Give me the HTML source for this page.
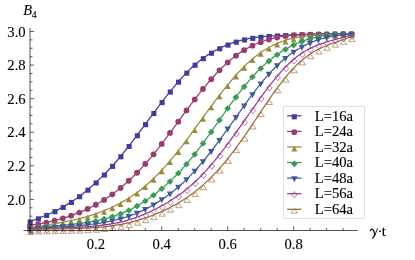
<!DOCTYPE html>
<html><head><meta charset="utf-8"><title>B4 plot</title>
<style>
html,body{margin:0;padding:0;background:#fff;}
body{width:415px;height:260px;position:relative;overflow:hidden;font-family:"Liberation Serif",serif;}
svg text{font-family:"Liberation Serif",serif;stroke:#000;stroke-width:0.12px;}
</style></head><body>
<svg width="415" height="260" viewBox="0 0 415 260" style="position:absolute;left:0;top:0;will-change:transform;opacity:0.999">
<rect width="415" height="260" fill="#fff"/>
<polyline points="29.90,221.67 31.53,221.05 33.16,220.42 34.79,219.78 36.42,219.15 38.05,218.50 39.68,217.85 41.31,217.19 42.94,216.52 44.57,215.83 46.20,215.14 47.83,214.43 49.46,213.71 51.09,212.96 52.72,212.21 54.35,211.43 55.98,210.63 57.61,209.82 59.24,208.98 60.87,208.11 62.50,207.22 64.13,206.31 65.76,205.37 67.39,204.40 69.02,203.39 70.65,202.36 72.28,201.30 73.91,200.20 75.54,199.08 77.17,197.92 78.80,196.73 80.43,195.51 82.06,194.26 83.69,192.98 85.32,191.67 86.95,190.34 88.58,188.97 90.20,187.58 91.83,186.16 93.46,184.71 95.09,183.24 96.72,181.74 98.35,180.22 99.98,178.67 101.61,177.09 103.24,175.49 104.87,173.85 106.50,172.19 108.13,170.49 109.76,168.76 111.39,166.99 113.02,165.19 114.65,163.35 116.28,161.48 117.91,159.57 119.54,157.64 121.17,155.67 122.80,153.68 124.43,151.66 126.06,149.61 127.69,147.54 129.32,145.46 130.95,143.35 132.58,141.23 134.21,139.09 135.84,136.93 137.47,134.77 139.10,132.59 140.73,130.41 142.36,128.22 143.99,126.02 145.62,123.82 147.25,121.62 148.88,119.41 150.51,117.21 152.14,115.02 153.77,112.83 155.40,110.64 157.03,108.46 158.66,106.30 160.29,104.15 161.92,102.01 163.55,99.89 165.18,97.78 166.81,95.70 168.44,93.63 170.07,91.59 171.70,89.58 173.33,87.59 174.96,85.63 176.59,83.71 178.22,81.81 179.85,79.95 181.48,78.13 183.11,76.34 184.74,74.60 186.37,72.89 188.00,71.23 189.63,69.62 191.26,68.05 192.89,66.54 194.52,65.07 196.15,63.66 197.78,62.30 199.41,60.98 201.04,59.72 202.67,58.51 204.30,57.34 205.93,56.21 207.55,55.13 209.18,54.09 210.81,53.09 212.44,52.12 214.07,51.19 215.70,50.30 217.33,49.44 218.96,48.61 220.59,47.82 222.22,47.05 223.85,46.31 225.48,45.60 227.11,44.92 228.74,44.27 230.37,43.65 232.00,43.06 233.63,42.50 235.26,41.97 236.89,41.47 238.52,41.00 240.15,40.55 241.78,40.13 243.41,39.74 245.04,39.37 246.67,39.03 248.30,38.71 249.93,38.41 251.56,38.13 253.19,37.86 254.82,37.62 256.45,37.40 258.08,37.19 259.71,36.99 261.34,36.81 262.97,36.65 264.60,36.49 266.23,36.35 267.86,36.22 269.49,36.09 271.12,35.97 272.75,35.86 274.38,35.76 276.01,35.66 277.64,35.56 279.27,35.47 280.90,35.38 282.53,35.29 284.16,35.21 285.79,35.13 287.42,35.05 289.05,34.97 290.68,34.90 292.31,34.83 293.94,34.76 295.57,34.70 297.20,34.63 298.83,34.57 300.46,34.52 302.09,34.46 303.72,34.41 305.35,34.36 306.98,34.31 308.61,34.27 310.24,34.22 311.87,34.18 313.50,34.15 315.13,34.11 316.76,34.08 318.39,34.05 320.02,34.02 321.65,33.99 323.28,33.97 324.90,33.95 326.53,33.93 328.16,33.91 329.79,33.89 331.42,33.88 333.05,33.87 334.68,33.86 336.31,33.85 337.94,33.85 339.57,33.84 341.20,33.84 342.83,33.84 344.46,33.84 346.09,33.84 347.72,33.84 349.35,33.84 350.98,33.84 352.61,33.84 354.24,33.84" fill="none" stroke="#3f3d99" stroke-width="1.25" stroke-linejoin="round"/>
<rect x="27.65" y="219.52" width="5.10" height="5.10" fill="#3f3d99"/>
<rect x="35.89" y="216.31" width="5.10" height="5.10" fill="#3f3d99"/>
<rect x="44.13" y="212.91" width="5.10" height="5.10" fill="#3f3d99"/>
<rect x="52.38" y="209.14" width="5.10" height="5.10" fill="#3f3d99"/>
<rect x="60.62" y="204.87" width="5.10" height="5.10" fill="#3f3d99"/>
<rect x="68.86" y="199.91" width="5.10" height="5.10" fill="#3f3d99"/>
<rect x="77.10" y="194.16" width="5.10" height="5.10" fill="#3f3d99"/>
<rect x="85.35" y="187.64" width="5.10" height="5.10" fill="#3f3d99"/>
<rect x="93.59" y="180.41" width="5.10" height="5.10" fill="#3f3d99"/>
<rect x="101.83" y="172.50" width="5.10" height="5.10" fill="#3f3d99"/>
<rect x="110.07" y="163.82" width="5.10" height="5.10" fill="#3f3d99"/>
<rect x="118.32" y="154.25" width="5.10" height="5.10" fill="#3f3d99"/>
<rect x="126.56" y="143.96" width="5.10" height="5.10" fill="#3f3d99"/>
<rect x="134.80" y="133.18" width="5.10" height="5.10" fill="#3f3d99"/>
<rect x="143.04" y="122.11" width="5.10" height="5.10" fill="#3f3d99"/>
<rect x="151.29" y="110.99" width="5.10" height="5.10" fill="#3f3d99"/>
<rect x="159.53" y="100.04" width="5.10" height="5.10" fill="#3f3d99"/>
<rect x="167.77" y="89.50" width="5.10" height="5.10" fill="#3f3d99"/>
<rect x="176.02" y="79.61" width="5.10" height="5.10" fill="#3f3d99"/>
<rect x="184.26" y="70.60" width="5.10" height="5.10" fill="#3f3d99"/>
<rect x="192.50" y="62.71" width="5.10" height="5.10" fill="#3f3d99"/>
<rect x="200.74" y="56.12" width="5.10" height="5.10" fill="#3f3d99"/>
<rect x="208.98" y="50.68" width="5.10" height="5.10" fill="#3f3d99"/>
<rect x="217.23" y="46.21" width="5.10" height="5.10" fill="#3f3d99"/>
<rect x="225.47" y="42.53" width="5.10" height="5.10" fill="#3f3d99"/>
<rect x="233.71" y="39.60" width="5.10" height="5.10" fill="#3f3d99"/>
<rect x="241.96" y="37.41" width="5.10" height="5.10" fill="#3f3d99"/>
<rect x="250.20" y="35.83" width="5.10" height="5.10" fill="#3f3d99"/>
<rect x="258.44" y="34.73" width="5.10" height="5.10" fill="#3f3d99"/>
<rect x="266.68" y="33.98" width="5.10" height="5.10" fill="#3f3d99"/>
<rect x="274.92" y="33.44" width="5.10" height="5.10" fill="#3f3d99"/>
<rect x="283.17" y="33.00" width="5.10" height="5.10" fill="#3f3d99"/>
<rect x="291.41" y="32.62" width="5.10" height="5.10" fill="#3f3d99"/>
<rect x="299.65" y="32.32" width="5.10" height="5.10" fill="#3f3d99"/>
<rect x="307.89" y="32.08" width="5.10" height="5.10" fill="#3f3d99"/>
<rect x="316.14" y="31.90" width="5.10" height="5.10" fill="#3f3d99"/>
<rect x="324.38" y="31.77" width="5.10" height="5.10" fill="#3f3d99"/>
<rect x="332.62" y="31.71" width="5.10" height="5.10" fill="#3f3d99"/>
<rect x="340.86" y="31.69" width="5.10" height="5.10" fill="#3f3d99"/>
<rect x="349.11" y="31.69" width="5.10" height="5.10" fill="#3f3d99"/>
<polyline points="29.90,225.48 31.53,225.23 33.16,224.97 34.79,224.70 36.42,224.42 38.05,224.13 39.68,223.83 41.31,223.52 42.94,223.20 44.57,222.86 46.20,222.52 47.83,222.16 49.46,221.79 51.09,221.41 52.72,221.02 54.35,220.61 55.98,220.19 57.61,219.75 59.24,219.30 60.87,218.84 62.50,218.36 64.13,217.86 65.76,217.35 67.39,216.83 69.02,216.29 70.65,215.73 72.28,215.16 73.91,214.57 75.54,213.96 77.17,213.33 78.80,212.68 80.43,212.02 82.06,211.33 83.69,210.63 85.32,209.90 86.95,209.15 88.58,208.38 90.20,207.59 91.83,206.77 93.46,205.93 95.09,205.06 96.72,204.17 98.35,203.25 99.98,202.31 101.61,201.34 103.24,200.34 104.87,199.31 106.50,198.25 108.13,197.17 109.76,196.05 111.39,194.90 113.02,193.72 114.65,192.51 116.28,191.27 117.91,190.00 119.54,188.69 121.17,187.36 122.80,185.99 124.43,184.59 126.06,183.16 127.69,181.69 129.32,180.20 130.95,178.67 132.58,177.11 134.21,175.52 135.84,173.90 137.47,172.24 139.10,170.55 140.73,168.83 142.36,167.08 143.99,165.30 145.62,163.48 147.25,161.64 148.88,159.76 150.51,157.84 152.14,155.90 153.77,153.92 155.40,151.92 157.03,149.88 158.66,147.81 160.29,145.72 161.92,143.61 163.55,141.47 165.18,139.32 166.81,137.14 168.44,134.96 170.07,132.76 171.70,130.55 173.33,128.33 174.96,126.10 176.59,123.87 178.22,121.64 179.85,119.41 181.48,117.18 183.11,114.95 184.74,112.73 186.37,110.52 188.00,108.32 189.63,106.13 191.26,103.96 192.89,101.80 194.52,99.66 196.15,97.55 197.78,95.45 199.41,93.38 201.04,91.33 202.67,89.31 204.30,87.32 205.93,85.36 207.55,83.42 209.18,81.52 210.81,79.64 212.44,77.80 214.07,76.00 215.70,74.23 217.33,72.49 218.96,70.79 220.59,69.13 222.22,67.51 223.85,65.93 225.48,64.40 227.11,62.90 228.74,61.46 230.37,60.05 232.00,58.69 233.63,57.38 235.26,56.12 236.89,54.91 238.52,53.75 240.15,52.64 241.78,51.58 243.41,50.56 245.04,49.57 246.67,48.62 248.30,47.71 249.93,46.84 251.56,46.02 253.19,45.23 254.82,44.48 256.45,43.77 258.08,43.09 259.71,42.45 261.34,41.84 262.97,41.26 264.60,40.72 266.23,40.20 267.86,39.72 269.49,39.26 271.12,38.83 272.75,38.43 274.38,38.04 276.01,37.69 277.64,37.35 279.27,37.04 280.90,36.74 282.53,36.47 284.16,36.21 285.79,35.98 287.42,35.78 289.05,35.61 290.68,35.45 292.31,35.30 293.94,35.17 295.57,35.05 297.20,34.94 298.83,34.85 300.46,34.76 302.09,34.69 303.72,34.62 305.35,34.57 306.98,34.52 308.61,34.48 310.24,34.44 311.87,34.41 313.50,34.38 315.13,34.36 316.76,34.34 318.39,34.33 320.02,34.31 321.65,34.30 323.28,34.29 324.90,34.27 326.53,34.26 328.16,34.24 329.79,34.22 331.42,34.19 333.05,34.16 334.68,34.13 336.31,34.09 337.94,34.04 339.57,33.98 341.20,33.92 342.83,33.84 344.46,33.76 346.09,33.70 347.72,33.70 349.35,33.70 350.98,33.70 352.61,33.70 354.24,33.70" fill="none" stroke="#993d71" stroke-width="1.25" stroke-linejoin="round"/>
<circle cx="29.90" cy="225.58" r="2.9" fill="#993d71"/>
<circle cx="38.14" cy="224.21" r="2.9" fill="#993d71"/>
<circle cx="46.38" cy="222.58" r="2.9" fill="#993d71"/>
<circle cx="54.63" cy="220.64" r="2.9" fill="#993d71"/>
<circle cx="62.87" cy="218.35" r="2.9" fill="#993d71"/>
<circle cx="71.11" cy="215.67" r="2.9" fill="#993d71"/>
<circle cx="79.35" cy="212.56" r="2.9" fill="#993d71"/>
<circle cx="87.60" cy="208.95" r="2.9" fill="#993d71"/>
<circle cx="95.84" cy="204.76" r="2.9" fill="#993d71"/>
<circle cx="104.08" cy="199.91" r="2.9" fill="#993d71"/>
<circle cx="112.32" cy="194.33" r="2.9" fill="#993d71"/>
<circle cx="120.57" cy="187.96" r="2.9" fill="#993d71"/>
<circle cx="128.81" cy="180.77" r="2.9" fill="#993d71"/>
<circle cx="137.05" cy="172.77" r="2.9" fill="#993d71"/>
<circle cx="145.29" cy="163.95" r="2.9" fill="#993d71"/>
<circle cx="153.54" cy="154.31" r="2.9" fill="#993d71"/>
<circle cx="161.78" cy="143.89" r="2.9" fill="#993d71"/>
<circle cx="170.02" cy="132.92" r="2.9" fill="#993d71"/>
<circle cx="178.27" cy="121.67" r="2.9" fill="#993d71"/>
<circle cx="186.51" cy="110.43" r="2.9" fill="#993d71"/>
<circle cx="194.75" cy="99.46" r="2.9" fill="#993d71"/>
<circle cx="202.99" cy="89.01" r="2.9" fill="#993d71"/>
<circle cx="211.23" cy="79.27" r="2.9" fill="#993d71"/>
<circle cx="219.48" cy="70.37" r="2.9" fill="#993d71"/>
<circle cx="227.72" cy="62.46" r="2.9" fill="#993d71"/>
<circle cx="235.96" cy="55.70" r="2.9" fill="#993d71"/>
<circle cx="244.21" cy="50.18" r="2.9" fill="#993d71"/>
<circle cx="252.45" cy="45.68" r="2.9" fill="#993d71"/>
<circle cx="260.69" cy="42.18" r="2.9" fill="#993d71"/>
<circle cx="268.93" cy="39.52" r="2.9" fill="#993d71"/>
<circle cx="277.17" cy="37.54" r="2.9" fill="#993d71"/>
<circle cx="285.42" cy="36.12" r="2.9" fill="#993d71"/>
<circle cx="293.66" cy="35.29" r="2.9" fill="#993d71"/>
<circle cx="301.90" cy="34.80" r="2.9" fill="#993d71"/>
<circle cx="310.14" cy="34.54" r="2.9" fill="#993d71"/>
<circle cx="318.39" cy="34.43" r="2.9" fill="#993d71"/>
<circle cx="326.63" cy="34.36" r="2.9" fill="#993d71"/>
<circle cx="334.87" cy="34.22" r="2.9" fill="#993d71"/>
<circle cx="343.11" cy="33.93" r="2.9" fill="#993d71"/>
<circle cx="351.36" cy="33.80" r="2.9" fill="#993d71"/>
<polyline points="29.90,227.53 31.53,227.28 33.16,227.03 34.79,226.78 36.42,226.54 38.05,226.29 39.68,226.04 41.31,225.79 42.94,225.54 44.57,225.29 46.20,225.04 47.83,224.78 49.46,224.52 51.09,224.25 52.72,223.99 54.35,223.71 55.98,223.43 57.61,223.15 59.24,222.86 60.87,222.56 62.50,222.26 64.13,221.95 65.76,221.63 67.39,221.30 69.02,220.96 70.65,220.61 72.28,220.26 73.91,219.89 75.54,219.51 77.17,219.12 78.80,218.72 80.43,218.31 82.06,217.88 83.69,217.45 85.32,216.99 86.95,216.53 88.58,216.04 90.20,215.55 91.83,215.04 93.46,214.51 95.09,213.96 96.72,213.40 98.35,212.82 99.98,212.23 101.61,211.61 103.24,210.98 104.87,210.33 106.50,209.65 108.13,208.96 109.76,208.25 111.39,207.51 113.02,206.75 114.65,205.97 116.28,205.16 117.91,204.33 119.54,203.47 121.17,202.58 122.80,201.67 124.43,200.73 126.06,199.77 127.69,198.77 129.32,197.74 130.95,196.68 132.58,195.59 134.21,194.47 135.84,193.32 137.47,192.13 139.10,190.91 140.73,189.65 142.36,188.36 143.99,187.02 145.62,185.66 147.25,184.25 148.88,182.81 150.51,181.33 152.14,179.81 153.77,178.26 155.40,176.67 157.03,175.05 158.66,173.39 160.29,171.70 161.92,169.97 163.55,168.21 165.18,166.42 166.81,164.60 168.44,162.74 170.07,160.85 171.70,158.93 173.33,156.97 174.96,154.99 176.59,152.98 178.22,150.93 179.85,148.86 181.48,146.76 183.11,144.64 184.74,142.49 186.37,140.32 188.00,138.14 189.63,135.93 191.26,133.71 192.89,131.48 194.52,129.24 196.15,126.99 197.78,124.74 199.41,122.48 201.04,120.22 202.67,117.96 204.30,115.71 205.93,113.45 207.55,111.21 209.18,108.97 210.81,106.75 212.44,104.54 214.07,102.34 215.70,100.16 217.33,98.01 218.96,95.87 220.59,93.76 222.22,91.67 223.85,89.61 225.48,87.58 227.11,85.57 228.74,83.60 230.37,81.66 232.00,79.75 233.63,77.87 235.26,76.02 236.89,74.22 238.52,72.44 240.15,70.71 241.78,69.01 243.41,67.36 245.04,65.74 246.67,64.17 248.30,62.64 249.93,61.15 251.56,59.71 253.19,58.32 254.82,56.97 256.45,55.67 258.08,54.41 259.71,53.20 261.34,52.05 262.97,50.97 264.60,49.93 266.23,48.94 267.86,47.98 269.49,47.07 271.12,46.20 272.75,45.37 274.38,44.59 276.01,43.84 277.64,43.13 279.27,42.46 280.90,41.83 282.53,41.24 284.16,40.68 285.79,40.16 287.42,39.68 289.05,39.23 290.68,38.82 292.31,38.44 293.94,38.08 295.57,37.72 297.20,37.39 298.83,37.09 300.46,36.82 302.09,36.56 303.72,36.33 305.35,36.13 306.98,35.94 308.61,35.76 310.24,35.61 311.87,35.47 313.50,35.35 315.13,35.23 316.76,35.13 318.39,35.04 320.02,34.96 321.65,34.89 323.28,34.82 324.90,34.75 326.53,34.69 328.16,34.63 329.79,34.57 331.42,34.51 333.05,34.45 334.68,34.38 336.31,34.31 337.94,34.23 339.57,34.14 341.20,34.04 342.83,33.93 344.46,33.81 346.09,33.70 347.72,33.70 349.35,33.70 350.98,33.70 352.61,33.70 354.24,33.70" fill="none" stroke="#998b3d" stroke-width="1.25" stroke-linejoin="round"/>
<path d="M26.90 231.68L32.90 231.68L29.90 225.78Z" fill="#998b3d"/>
<path d="M35.14 230.43L41.14 230.43L38.14 224.53Z" fill="#998b3d"/>
<path d="M43.38 229.16L49.38 229.16L46.38 223.26Z" fill="#998b3d"/>
<path d="M51.63 227.81L57.63 227.81L54.63 221.91Z" fill="#998b3d"/>
<path d="M59.87 226.34L65.87 226.34L62.87 220.44Z" fill="#998b3d"/>
<path d="M68.11 224.66L74.11 224.66L71.11 218.76Z" fill="#998b3d"/>
<path d="M76.35 222.73L82.35 222.73L79.35 216.83Z" fill="#998b3d"/>
<path d="M84.60 220.49L90.60 220.49L87.60 214.59Z" fill="#998b3d"/>
<path d="M92.84 217.86L98.84 217.86L95.84 211.96Z" fill="#998b3d"/>
<path d="M101.08 214.80L107.08 214.80L104.08 208.90Z" fill="#998b3d"/>
<path d="M109.32 211.23L115.32 211.23L112.32 205.33Z" fill="#998b3d"/>
<path d="M117.57 207.07L123.57 207.07L120.57 201.17Z" fill="#998b3d"/>
<path d="M125.81 202.22L131.81 202.22L128.81 196.32Z" fill="#998b3d"/>
<path d="M134.05 196.59L140.05 196.59L137.05 190.69Z" fill="#998b3d"/>
<path d="M142.29 190.08L148.29 190.08L145.29 184.18Z" fill="#998b3d"/>
<path d="M150.54 182.63L156.54 182.63L153.54 176.73Z" fill="#998b3d"/>
<path d="M158.78 174.27L164.78 174.27L161.78 168.37Z" fill="#998b3d"/>
<path d="M167.02 165.05L173.02 165.05L170.02 159.15Z" fill="#998b3d"/>
<path d="M175.27 155.02L181.27 155.02L178.27 149.12Z" fill="#998b3d"/>
<path d="M183.51 144.28L189.51 144.28L186.51 138.38Z" fill="#998b3d"/>
<path d="M191.75 133.07L197.75 133.07L194.75 127.17Z" fill="#998b3d"/>
<path d="M199.99 121.66L205.99 121.66L202.99 115.76Z" fill="#998b3d"/>
<path d="M208.23 110.33L214.23 110.33L211.23 104.43Z" fill="#998b3d"/>
<path d="M216.48 99.35L222.48 99.35L219.48 93.45Z" fill="#998b3d"/>
<path d="M224.72 88.99L230.72 88.99L227.72 83.09Z" fill="#998b3d"/>
<path d="M232.96 79.39L238.96 79.39L235.96 73.49Z" fill="#998b3d"/>
<path d="M241.21 70.72L247.21 70.72L244.21 64.82Z" fill="#998b3d"/>
<path d="M249.45 63.10L255.45 63.10L252.45 57.20Z" fill="#998b3d"/>
<path d="M257.69 56.65L263.69 56.65L260.69 50.75Z" fill="#998b3d"/>
<path d="M265.93 51.53L271.93 51.53L268.93 45.63Z" fill="#998b3d"/>
<path d="M274.17 47.48L280.17 47.48L277.17 41.58Z" fill="#998b3d"/>
<path d="M282.42 44.43L288.42 44.43L285.42 38.53Z" fill="#998b3d"/>
<path d="M290.66 42.29L296.66 42.29L293.66 36.39Z" fill="#998b3d"/>
<path d="M298.90 40.74L304.90 40.74L301.90 34.84Z" fill="#998b3d"/>
<path d="M307.14 39.77L313.14 39.77L310.14 33.87Z" fill="#998b3d"/>
<path d="M315.39 39.19L321.39 39.19L318.39 33.29Z" fill="#998b3d"/>
<path d="M323.63 38.84L329.63 38.84L326.63 32.94Z" fill="#998b3d"/>
<path d="M331.87 38.52L337.87 38.52L334.87 32.62Z" fill="#998b3d"/>
<path d="M340.11 38.06L346.11 38.06L343.11 32.16Z" fill="#998b3d"/>
<path d="M348.36 37.85L354.36 37.85L351.36 31.95Z" fill="#998b3d"/>
<polyline points="29.90,228.16 31.53,227.97 33.16,227.79 34.79,227.61 36.42,227.45 38.05,227.28 39.68,227.13 41.31,226.98 42.94,226.83 44.57,226.69 46.20,226.56 47.83,226.42 49.46,226.29 51.09,226.16 52.72,226.03 54.35,225.90 55.98,225.77 57.61,225.64 59.24,225.51 60.87,225.37 62.50,225.24 64.13,225.10 65.76,224.95 67.39,224.80 69.02,224.65 70.65,224.49 72.28,224.32 73.91,224.15 75.54,223.97 77.17,223.78 78.80,223.58 80.43,223.37 82.06,223.15 83.69,222.92 85.32,222.68 86.95,222.43 88.58,222.16 90.20,221.88 91.83,221.59 93.46,221.28 95.09,220.96 96.72,220.62 98.35,220.27 99.98,219.89 101.61,219.50 103.24,219.10 104.87,218.68 106.50,218.26 108.13,217.82 109.76,217.36 111.39,216.88 113.02,216.37 114.65,215.84 116.28,215.29 117.91,214.72 119.54,214.12 121.17,213.50 122.80,212.86 124.43,212.19 126.06,211.49 127.69,210.77 129.32,210.01 130.95,209.20 132.58,208.36 134.21,207.49 135.84,206.59 137.47,205.67 139.10,204.72 140.73,203.74 142.36,202.74 143.99,201.71 145.62,200.64 147.25,199.55 148.88,198.44 150.51,197.29 152.14,196.11 153.77,194.90 155.40,193.66 157.03,192.39 158.66,191.09 160.29,189.76 161.92,188.40 163.55,187.02 165.18,185.62 166.81,184.18 168.44,182.71 170.07,181.20 171.70,179.66 173.33,178.09 174.96,176.48 176.59,174.84 178.22,173.16 179.85,171.45 181.48,169.71 183.11,167.93 184.74,166.11 186.37,164.25 188.00,162.36 189.63,160.44 191.26,158.47 192.89,156.47 194.52,154.43 196.15,152.35 197.78,150.24 199.41,148.10 201.04,145.92 202.67,143.71 204.30,141.49 205.93,139.23 207.55,136.96 209.18,134.67 210.81,132.37 212.44,130.06 214.07,127.73 215.70,125.41 217.33,123.07 218.96,120.74 220.59,118.41 222.22,116.08 223.85,113.76 225.48,111.45 227.11,109.16 228.74,106.87 230.37,104.61 232.00,102.37 233.63,100.15 235.26,97.96 236.89,95.79 238.52,93.66 240.15,91.56 241.78,89.49 243.41,87.45 245.04,85.45 246.67,83.49 248.30,81.57 249.93,79.68 251.56,77.83 253.19,76.03 254.82,74.26 256.45,72.54 258.08,70.87 259.71,69.24 261.34,67.65 262.97,66.12 264.60,64.63 266.23,63.18 267.86,61.78 269.49,60.43 271.12,59.11 272.75,57.84 274.38,56.61 276.01,55.42 277.64,54.27 279.27,53.16 280.90,52.08 282.53,51.04 284.16,50.04 285.79,49.07 287.42,48.14 289.05,47.25 290.68,46.39 292.31,45.57 293.94,44.78 295.57,44.02 297.20,43.30 298.83,42.61 300.46,41.95 302.09,41.32 303.72,40.73 305.35,40.17 306.98,39.63 308.61,39.13 310.24,38.65 311.87,38.21 313.50,37.79 315.13,37.40 316.76,37.04 318.39,36.71 320.02,36.40 321.65,36.12 323.28,35.86 324.90,35.63 326.53,35.42 328.16,35.23 329.79,35.05 331.42,34.90 333.05,34.76 334.68,34.64 336.31,34.53 337.94,34.44 339.57,34.36 341.20,34.29 342.83,34.22 344.46,34.17 346.09,34.12 347.72,34.08 349.35,34.04 350.98,34.01 352.61,33.98 354.24,33.95" fill="none" stroke="#3d9956" stroke-width="1.25" stroke-linejoin="round"/>
<path d="M26.50 228.36L29.90 225.06L33.30 228.36L29.90 231.66Z" fill="#3d9956"/>
<path d="M34.74 227.48L38.14 224.18L41.54 227.48L38.14 230.78Z" fill="#3d9956"/>
<path d="M42.98 226.74L46.38 223.44L49.78 226.74L46.38 230.04Z" fill="#3d9956"/>
<path d="M51.23 226.08L54.63 222.78L58.03 226.08L54.63 229.38Z" fill="#3d9956"/>
<path d="M59.47 225.40L62.87 222.10L66.27 225.40L62.87 228.70Z" fill="#3d9956"/>
<path d="M67.71 224.64L71.11 221.34L74.51 224.64L71.11 227.94Z" fill="#3d9956"/>
<path d="M75.95 223.71L79.35 220.41L82.75 223.71L79.35 227.01Z" fill="#3d9956"/>
<path d="M84.20 222.52L87.60 219.22L91.00 222.52L87.60 225.82Z" fill="#3d9956"/>
<path d="M92.44 221.01L95.84 217.71L99.24 221.01L95.84 224.31Z" fill="#3d9956"/>
<path d="M100.68 219.08L104.08 215.78L107.48 219.08L104.08 222.38Z" fill="#3d9956"/>
<path d="M108.92 216.79L112.32 213.49L115.72 216.79L112.32 220.09Z" fill="#3d9956"/>
<path d="M117.17 213.93L120.57 210.63L123.97 213.93L120.57 217.23Z" fill="#3d9956"/>
<path d="M125.41 210.47L128.81 207.17L132.21 210.47L128.81 213.77Z" fill="#3d9956"/>
<path d="M133.65 206.11L137.05 202.81L140.45 206.11L137.05 209.41Z" fill="#3d9956"/>
<path d="M141.89 201.06L145.29 197.76L148.69 201.06L145.29 204.36Z" fill="#3d9956"/>
<path d="M150.14 195.27L153.54 191.97L156.94 195.27L153.54 198.57Z" fill="#3d9956"/>
<path d="M158.38 188.72L161.78 185.42L165.18 188.72L161.78 192.02Z" fill="#3d9956"/>
<path d="M166.62 181.44L170.02 178.14L173.42 181.44L170.02 184.74Z" fill="#3d9956"/>
<path d="M174.87 173.31L178.27 170.01L181.67 173.31L178.27 176.61Z" fill="#3d9956"/>
<path d="M183.11 164.29L186.51 160.99L189.91 164.29L186.51 167.59Z" fill="#3d9956"/>
<path d="M191.35 154.34L194.75 151.04L198.15 154.34L194.75 157.64Z" fill="#3d9956"/>
<path d="M199.59 143.47L202.99 140.17L206.39 143.47L202.99 146.77Z" fill="#3d9956"/>
<path d="M207.83 131.98L211.23 128.68L214.63 131.98L211.23 135.28Z" fill="#3d9956"/>
<path d="M216.08 120.20L219.48 116.90L222.88 120.20L219.48 123.50Z" fill="#3d9956"/>
<path d="M224.32 108.50L227.72 105.20L231.12 108.50L227.72 111.80Z" fill="#3d9956"/>
<path d="M232.56 97.22L235.96 93.92L239.36 97.22L235.96 100.52Z" fill="#3d9956"/>
<path d="M240.81 86.68L244.21 83.38L247.61 86.68L244.21 89.98Z" fill="#3d9956"/>
<path d="M249.05 77.05L252.45 73.75L255.85 77.05L252.45 80.35Z" fill="#3d9956"/>
<path d="M257.29 68.48L260.69 65.18L264.09 68.48L260.69 71.78Z" fill="#3d9956"/>
<path d="M265.53 61.09L268.93 57.79L272.33 61.09L268.93 64.39Z" fill="#3d9956"/>
<path d="M273.77 54.79L277.17 51.49L280.57 54.79L277.17 58.09Z" fill="#3d9956"/>
<path d="M282.02 49.49L285.42 46.19L288.82 49.49L285.42 52.79Z" fill="#3d9956"/>
<path d="M290.26 45.11L293.66 41.81L297.06 45.11L293.66 48.41Z" fill="#3d9956"/>
<path d="M298.50 41.59L301.90 38.29L305.30 41.59L301.90 44.89Z" fill="#3d9956"/>
<path d="M306.75 38.88L310.14 35.58L313.54 38.88L310.14 42.18Z" fill="#3d9956"/>
<path d="M314.99 36.91L318.39 33.61L321.79 36.91L318.39 40.21Z" fill="#3d9956"/>
<path d="M323.23 35.61L326.63 32.31L330.03 35.61L326.63 38.91Z" fill="#3d9956"/>
<path d="M331.47 34.83L334.87 31.53L338.27 34.83L334.87 38.13Z" fill="#3d9956"/>
<path d="M339.71 34.41L343.11 31.11L346.51 34.41L343.11 37.71Z" fill="#3d9956"/>
<path d="M347.96 34.20L351.36 30.90L354.76 34.20L351.36 37.50Z" fill="#3d9956"/>
<polyline points="29.90,228.91 31.53,228.77 33.16,228.63 34.79,228.50 36.42,228.38 38.05,228.26 39.68,228.15 41.31,228.04 42.94,227.93 44.57,227.83 46.20,227.73 47.83,227.63 49.46,227.54 51.09,227.45 52.72,227.35 54.35,227.26 55.98,227.17 57.61,227.08 59.24,226.99 60.87,226.89 62.50,226.80 64.13,226.70 65.76,226.60 67.39,226.49 69.02,226.38 70.65,226.27 72.28,226.16 73.91,226.04 75.54,225.91 77.17,225.78 78.80,225.64 80.43,225.49 82.06,225.34 83.69,225.18 85.32,225.01 86.95,224.84 88.58,224.65 90.20,224.46 91.83,224.25 93.46,224.03 95.09,223.81 96.72,223.57 98.35,223.32 99.98,223.06 101.61,222.78 103.24,222.49 104.87,222.21 106.50,221.92 108.13,221.61 109.76,221.29 111.39,220.96 113.02,220.61 114.65,220.24 116.28,219.86 117.91,219.46 119.54,219.04 121.17,218.60 122.80,218.14 124.43,217.67 126.06,217.17 127.69,216.66 129.32,216.11 130.95,215.51 132.58,214.88 134.21,214.24 135.84,213.57 137.47,212.88 139.10,212.17 140.73,211.43 142.36,210.67 143.99,209.88 145.62,209.07 147.25,208.23 148.88,207.37 150.51,206.48 152.14,205.56 153.77,204.62 155.40,203.64 157.03,202.64 158.66,201.61 160.29,200.56 161.92,199.47 163.55,198.37 165.18,197.24 166.81,196.08 168.44,194.89 170.07,193.67 171.70,192.41 173.33,191.12 174.96,189.80 176.59,188.44 178.22,187.05 179.85,185.63 181.48,184.17 183.11,182.67 184.74,181.14 186.37,179.57 188.00,177.96 189.63,176.32 191.26,174.64 192.89,172.92 194.52,171.16 196.15,169.36 197.78,167.53 199.41,165.66 201.04,163.75 202.67,161.81 204.30,159.83 205.93,157.83 207.55,155.80 209.18,153.74 210.81,151.65 212.44,149.54 214.07,147.40 215.70,145.25 217.33,143.07 218.96,140.88 220.59,138.66 222.22,136.43 223.85,134.19 225.48,131.94 227.11,129.67 228.74,127.39 230.37,125.11 232.00,122.82 233.63,120.52 235.26,118.22 236.89,115.92 238.52,113.62 240.15,111.32 241.78,109.02 243.41,106.74 245.04,104.46 246.67,102.20 248.30,99.95 249.93,97.72 251.56,95.52 253.19,93.33 254.82,91.18 256.45,89.05 258.08,86.96 259.71,84.90 261.34,82.88 262.97,80.90 264.60,78.95 266.23,77.05 267.86,75.20 269.49,73.38 271.12,71.62 272.75,69.89 274.38,68.22 276.01,66.59 277.64,65.01 279.27,63.48 280.90,62.00 282.53,60.57 284.16,59.19 285.79,57.85 287.42,56.56 289.05,55.31 290.68,54.11 292.31,52.95 293.94,51.84 295.57,50.76 297.20,49.73 298.83,48.74 300.46,47.79 302.09,46.88 303.72,46.00 305.35,45.17 306.98,44.37 308.61,43.61 310.24,42.89 311.87,42.20 313.50,41.54 315.13,40.92 316.76,40.33 318.39,39.77 320.02,39.24 321.65,38.75 323.28,38.28 324.90,37.85 326.53,37.44 328.16,37.06 329.79,36.70 331.42,36.38 333.05,36.08 334.68,35.80 336.31,35.55 337.94,35.32 339.57,35.11 341.20,34.93 342.83,34.76 344.46,34.62 346.09,34.50 347.72,34.39 349.35,34.31 350.98,34.24 352.61,34.19 354.24,34.15" fill="none" stroke="#3d5a99" stroke-width="1.25" stroke-linejoin="round"/>
<path d="M26.70 226.71L33.10 226.71L29.90 232.71Z" fill="#3d5a99"/>
<path d="M34.94 226.05L41.34 226.05L38.14 232.05Z" fill="#3d5a99"/>
<path d="M43.18 225.52L49.59 225.52L46.38 231.52Z" fill="#3d5a99"/>
<path d="M51.43 225.05L57.83 225.05L54.63 231.05Z" fill="#3d5a99"/>
<path d="M59.67 224.57L66.07 224.57L62.87 230.57Z" fill="#3d5a99"/>
<path d="M67.91 224.04L74.31 224.04L71.11 230.04Z" fill="#3d5a99"/>
<path d="M76.15 223.39L82.55 223.39L79.35 229.39Z" fill="#3d5a99"/>
<path d="M84.40 222.56L90.80 222.56L87.60 228.56Z" fill="#3d5a99"/>
<path d="M92.64 221.50L99.04 221.50L95.84 227.50Z" fill="#3d5a99"/>
<path d="M100.88 220.14L107.28 220.14L104.08 226.14Z" fill="#3d5a99"/>
<path d="M109.12 218.56L115.52 218.56L112.32 224.56Z" fill="#3d5a99"/>
<path d="M117.37 216.56L123.77 216.56L120.57 222.56Z" fill="#3d5a99"/>
<path d="M125.61 214.09L132.01 214.09L128.81 220.09Z" fill="#3d5a99"/>
<path d="M133.85 210.86L140.25 210.86L137.05 216.86Z" fill="#3d5a99"/>
<path d="M142.09 207.03L148.49 207.03L145.29 213.03Z" fill="#3d5a99"/>
<path d="M150.34 202.55L156.74 202.55L153.54 208.55Z" fill="#3d5a99"/>
<path d="M158.58 197.36L164.98 197.36L161.78 203.36Z" fill="#3d5a99"/>
<path d="M166.82 191.50L173.22 191.50L170.02 197.50Z" fill="#3d5a99"/>
<path d="M175.07 184.81L181.47 184.81L178.27 190.81Z" fill="#3d5a99"/>
<path d="M183.31 177.23L189.71 177.23L186.51 183.23Z" fill="#3d5a99"/>
<path d="M191.55 168.71L197.95 168.71L194.75 174.71Z" fill="#3d5a99"/>
<path d="M199.79 159.21L206.19 159.21L202.99 165.21Z" fill="#3d5a99"/>
<path d="M208.03 148.91L214.43 148.91L211.23 154.91Z" fill="#3d5a99"/>
<path d="M216.28 137.98L222.68 137.98L219.48 143.98Z" fill="#3d5a99"/>
<path d="M224.52 126.62L230.92 126.62L227.72 132.62Z" fill="#3d5a99"/>
<path d="M232.76 115.03L239.16 115.03L235.96 121.03Z" fill="#3d5a99"/>
<path d="M241.01 103.43L247.41 103.43L244.21 109.43Z" fill="#3d5a99"/>
<path d="M249.25 92.13L255.65 92.13L252.45 98.13Z" fill="#3d5a99"/>
<path d="M257.49 81.48L263.89 81.48L260.69 87.48Z" fill="#3d5a99"/>
<path d="M265.73 71.80L272.13 71.80L268.93 77.80Z" fill="#3d5a99"/>
<path d="M273.97 63.26L280.37 63.26L277.17 69.26Z" fill="#3d5a99"/>
<path d="M282.22 55.95L288.62 55.95L285.42 61.95Z" fill="#3d5a99"/>
<path d="M290.46 49.82L296.86 49.82L293.66 55.82Z" fill="#3d5a99"/>
<path d="M298.70 44.78L305.10 44.78L301.90 50.78Z" fill="#3d5a99"/>
<path d="M306.94 40.73L313.34 40.73L310.14 46.73Z" fill="#3d5a99"/>
<path d="M315.19 37.57L321.59 37.57L318.39 43.57Z" fill="#3d5a99"/>
<path d="M323.43 35.21L329.83 35.21L326.63 41.21Z" fill="#3d5a99"/>
<path d="M331.67 33.57L338.07 33.57L334.87 39.57Z" fill="#3d5a99"/>
<path d="M339.91 32.54L346.31 32.54L343.11 38.54Z" fill="#3d5a99"/>
<path d="M348.16 32.03L354.56 32.03L351.36 38.03Z" fill="#3d5a99"/>
<polyline points="29.90,229.20 31.53,229.09 33.16,229.00 34.79,228.91 36.42,228.82 38.05,228.74 39.68,228.67 41.31,228.60 42.94,228.53 44.57,228.47 46.20,228.41 47.83,228.36 49.46,228.30 51.09,228.25 52.72,228.20 54.35,228.15 55.98,228.10 57.61,228.05 59.24,228.00 60.87,227.95 62.50,227.90 64.13,227.84 65.76,227.79 67.39,227.73 69.02,227.67 70.65,227.60 72.28,227.53 73.91,227.46 75.54,227.38 77.17,227.30 78.80,227.21 80.43,227.12 82.06,227.02 83.69,226.91 85.32,226.80 86.95,226.68 88.58,226.55 90.20,226.41 91.83,226.26 93.46,226.10 95.09,225.93 96.72,225.76 98.35,225.57 99.98,225.37 101.61,225.16 103.24,224.94 104.87,224.72 106.50,224.51 108.13,224.29 109.76,224.05 111.39,223.80 113.02,223.54 114.65,223.26 116.28,222.96 117.91,222.65 119.54,222.32 121.17,221.96 122.80,221.54 124.43,221.10 126.06,220.65 127.69,220.18 129.32,219.69 130.95,219.18 132.58,218.66 134.21,218.11 135.84,217.55 137.47,216.97 139.10,216.36 140.73,215.74 142.36,215.10 143.99,214.44 145.62,213.75 147.25,213.05 148.88,212.32 150.51,211.57 152.14,210.80 153.77,210.01 155.40,209.20 157.03,208.36 158.66,207.51 160.29,206.63 161.92,205.72 163.55,204.81 165.18,203.88 166.81,202.92 168.44,201.93 170.07,200.93 171.70,199.89 173.33,198.84 174.96,197.75 176.59,196.64 178.22,195.50 179.85,194.33 181.48,193.13 183.11,191.90 184.74,190.63 186.37,189.34 188.00,188.01 189.63,186.64 191.26,185.24 192.89,183.80 194.52,182.32 196.15,180.81 197.78,179.25 199.41,177.66 201.04,176.02 202.67,174.34 204.30,172.61 205.93,170.85 207.55,169.04 209.18,167.19 210.81,165.31 212.44,163.39 214.07,161.43 215.70,159.44 217.33,157.42 218.96,155.37 220.59,153.29 222.22,151.19 223.85,149.05 225.48,146.90 227.11,144.72 228.74,142.52 230.37,140.30 232.00,138.07 233.63,135.82 235.26,133.55 236.89,131.27 238.52,128.98 240.15,126.68 241.78,124.37 243.41,122.06 245.04,119.73 246.67,117.41 248.30,115.08 249.93,112.76 251.56,110.44 253.19,108.12 254.82,105.81 256.45,103.51 258.08,101.23 259.71,98.95 261.34,96.69 262.97,94.45 264.60,92.24 266.23,90.04 267.86,87.88 269.49,85.74 271.12,83.64 272.75,81.58 274.38,79.56 276.01,77.58 277.64,75.65 279.27,73.76 280.90,71.93 282.53,70.15 284.16,68.42 285.79,66.74 287.42,65.11 289.05,63.54 290.68,62.03 292.31,60.57 293.94,59.17 295.57,57.82 297.20,56.54 298.83,55.31 300.46,54.14 302.09,53.04 303.72,51.99 305.35,51.01 306.98,50.08 308.61,49.19 310.24,48.36 311.87,47.57 313.50,46.83 315.13,46.12 316.76,45.45 318.39,44.80 320.02,44.19 321.65,43.60 323.28,43.04 324.90,42.49 326.53,41.97 328.16,41.47 329.79,40.98 331.42,40.50 333.05,40.04 334.68,39.59 336.31,39.14 337.94,38.70 339.57,38.27 341.20,37.84 342.83,37.40 344.46,36.97 346.09,36.53 347.72,36.08 349.35,35.63 350.98,35.17 352.61,34.69 354.24,34.20" fill="none" stroke="#993d90" stroke-width="1.25" stroke-linejoin="round"/>
<path d="M27.60 230.60L30.40 227.50L33.20 230.60L30.40 233.70Z" fill="none" stroke="#993d90" stroke-width="0.7"/>
<path d="M35.84 230.14L38.64 227.04L41.44 230.14L38.64 233.24Z" fill="none" stroke="#993d90" stroke-width="0.7"/>
<path d="M44.09 229.81L46.88 226.71L49.68 229.81L46.88 232.91Z" fill="none" stroke="#993d90" stroke-width="0.7"/>
<path d="M52.33 229.54L55.13 226.44L57.93 229.54L55.13 232.64Z" fill="none" stroke="#993d90" stroke-width="0.7"/>
<path d="M60.57 229.28L63.37 226.18L66.17 229.28L63.37 232.38Z" fill="none" stroke="#993d90" stroke-width="0.7"/>
<path d="M68.81 228.98L71.61 225.88L74.41 228.98L71.61 232.08Z" fill="none" stroke="#993d90" stroke-width="0.7"/>
<path d="M77.05 228.58L79.85 225.48L82.65 228.58L79.85 231.68Z" fill="none" stroke="#993d90" stroke-width="0.7"/>
<path d="M85.30 228.03L88.10 224.93L90.90 228.03L88.10 231.13Z" fill="none" stroke="#993d90" stroke-width="0.7"/>
<path d="M93.54 227.25L96.34 224.15L99.14 227.25L96.34 230.35Z" fill="none" stroke="#993d90" stroke-width="0.7"/>
<path d="M101.78 226.22L104.58 223.12L107.38 226.22L104.58 229.32Z" fill="none" stroke="#993d90" stroke-width="0.7"/>
<path d="M110.02 225.05L112.82 221.95L115.62 225.05L112.82 228.15Z" fill="none" stroke="#993d90" stroke-width="0.7"/>
<path d="M118.27 223.51L121.07 220.41L123.87 223.51L121.07 226.61Z" fill="none" stroke="#993d90" stroke-width="0.7"/>
<path d="M126.51 221.25L129.31 218.15L132.11 221.25L129.31 224.35Z" fill="none" stroke="#993d90" stroke-width="0.7"/>
<path d="M134.75 218.52L137.55 215.42L140.35 218.52L137.55 221.62Z" fill="none" stroke="#993d90" stroke-width="0.7"/>
<path d="M142.99 215.29L145.79 212.19L148.59 215.29L145.79 218.39Z" fill="none" stroke="#993d90" stroke-width="0.7"/>
<path d="M151.24 211.53L154.04 208.43L156.84 211.53L154.04 214.63Z" fill="none" stroke="#993d90" stroke-width="0.7"/>
<path d="M159.48 207.20L162.28 204.10L165.08 207.20L162.28 210.30Z" fill="none" stroke="#993d90" stroke-width="0.7"/>
<path d="M167.72 202.35L170.52 199.25L173.32 202.35L170.52 205.45Z" fill="none" stroke="#993d90" stroke-width="0.7"/>
<path d="M175.97 196.86L178.77 193.76L181.57 196.86L178.77 199.96Z" fill="none" stroke="#993d90" stroke-width="0.7"/>
<path d="M184.21 190.62L187.01 187.52L189.81 190.62L187.01 193.72Z" fill="none" stroke="#993d90" stroke-width="0.7"/>
<path d="M192.45 183.51L195.25 180.41L198.05 183.51L195.25 186.61Z" fill="none" stroke="#993d90" stroke-width="0.7"/>
<path d="M200.69 175.39L203.49 172.29L206.29 175.39L203.49 178.49Z" fill="none" stroke="#993d90" stroke-width="0.7"/>
<path d="M208.93 166.22L211.73 163.12L214.53 166.22L211.73 169.32Z" fill="none" stroke="#993d90" stroke-width="0.7"/>
<path d="M217.18 156.12L219.98 153.02L222.78 156.12L219.98 159.22Z" fill="none" stroke="#993d90" stroke-width="0.7"/>
<path d="M225.42 145.30L228.22 142.20L231.02 145.30L228.22 148.40Z" fill="none" stroke="#993d90" stroke-width="0.7"/>
<path d="M233.66 133.97L236.46 130.87L239.26 133.97L236.46 137.07Z" fill="none" stroke="#993d90" stroke-width="0.7"/>
<path d="M241.91 122.33L244.71 119.23L247.51 122.33L244.71 125.43Z" fill="none" stroke="#993d90" stroke-width="0.7"/>
<path d="M250.15 110.58L252.95 107.48L255.75 110.58L252.95 113.68Z" fill="none" stroke="#993d90" stroke-width="0.7"/>
<path d="M258.39 98.99L261.19 95.89L263.99 98.99L261.19 102.09Z" fill="none" stroke="#993d90" stroke-width="0.7"/>
<path d="M266.63 87.87L269.43 84.77L272.23 87.87L269.43 90.97Z" fill="none" stroke="#993d90" stroke-width="0.7"/>
<path d="M274.87 77.59L277.67 74.49L280.47 77.59L277.67 80.69Z" fill="none" stroke="#993d90" stroke-width="0.7"/>
<path d="M283.12 68.52L285.92 65.42L288.72 68.52L285.92 71.62Z" fill="none" stroke="#993d90" stroke-width="0.7"/>
<path d="M291.36 60.80L294.16 57.70L296.96 60.80L294.16 63.90Z" fill="none" stroke="#993d90" stroke-width="0.7"/>
<path d="M299.60 54.56L302.40 51.46L305.20 54.56L302.40 57.66Z" fill="none" stroke="#993d90" stroke-width="0.7"/>
<path d="M307.84 49.81L310.64 46.71L313.44 49.81L310.64 52.91Z" fill="none" stroke="#993d90" stroke-width="0.7"/>
<path d="M316.09 46.20L318.89 43.10L321.69 46.20L318.89 49.30Z" fill="none" stroke="#993d90" stroke-width="0.7"/>
<path d="M324.33 43.34L327.13 40.24L329.93 43.34L327.13 46.44Z" fill="none" stroke="#993d90" stroke-width="0.7"/>
<path d="M332.57 40.94L335.37 37.84L338.17 40.94L335.37 44.04Z" fill="none" stroke="#993d90" stroke-width="0.7"/>
<path d="M340.81 38.73L343.61 35.63L346.41 38.73L343.61 41.83Z" fill="none" stroke="#993d90" stroke-width="0.7"/>
<path d="M349.06 36.46L351.86 33.36L354.66 36.46L351.86 39.56Z" fill="none" stroke="#993d90" stroke-width="0.7"/>
<polyline points="29.90,229.76 31.53,229.66 33.16,229.56 34.79,229.48 36.42,229.40 38.05,229.33 39.68,229.26 41.31,229.20 42.94,229.15 44.57,229.10 46.20,229.05 47.83,229.01 49.46,228.97 51.09,228.94 52.72,228.91 54.35,228.88 55.98,228.85 57.61,228.82 59.24,228.79 60.87,228.77 62.50,228.74 64.13,228.72 65.76,228.69 67.39,228.66 69.02,228.63 70.65,228.60 72.28,228.57 73.91,228.53 75.54,228.49 77.17,228.44 78.80,228.39 80.43,228.34 82.06,228.28 83.69,228.22 85.32,228.14 86.95,228.07 88.58,227.98 90.20,227.89 91.83,227.79 93.46,227.68 95.09,227.57 96.72,227.44 98.35,227.30 99.98,227.16 101.61,227.00 103.24,226.84 104.87,226.67 106.50,226.50 108.13,226.31 109.76,226.12 111.39,225.91 113.02,225.69 114.65,225.46 116.28,225.22 117.91,224.96 119.54,224.69 121.17,224.39 122.80,224.06 124.43,223.72 126.06,223.36 127.69,222.99 129.32,222.61 130.95,222.21 132.58,221.79 134.21,221.36 135.84,220.91 137.47,220.45 139.10,219.97 140.73,219.47 142.36,218.96 143.99,218.43 145.62,217.88 147.25,217.31 148.88,216.73 150.51,216.13 152.14,215.51 153.77,214.87 155.40,214.22 157.03,213.54 158.66,212.85 160.29,212.14 161.92,211.40 163.55,210.66 165.18,209.89 166.81,209.11 168.44,208.31 170.07,207.48 171.70,206.63 173.33,205.76 174.96,204.87 176.59,203.96 178.22,203.02 179.85,202.05 181.48,201.06 183.11,200.04 184.74,198.99 186.37,197.92 188.00,196.81 189.63,195.67 191.26,194.51 192.89,193.30 194.52,192.07 196.15,190.80 197.78,189.49 199.41,188.15 201.04,186.77 202.67,185.35 204.30,183.89 205.93,182.40 207.55,180.86 209.18,179.29 210.81,177.68 212.44,176.02 214.07,174.33 215.70,172.60 217.33,170.84 218.96,169.03 220.59,167.19 222.22,165.30 223.85,163.38 225.48,161.43 227.11,159.43 228.74,157.40 230.37,155.33 232.00,153.22 233.63,151.08 235.26,148.91 236.89,146.70 238.52,144.47 240.15,142.20 241.78,139.91 243.41,137.58 245.04,135.24 246.67,132.86 248.30,130.47 249.93,128.06 251.56,125.63 253.19,123.20 254.82,120.75 256.45,118.30 258.08,115.85 259.71,113.40 261.34,110.95 262.97,108.51 264.60,106.09 266.23,103.68 267.86,101.28 269.49,98.91 271.12,96.56 272.75,94.23 274.38,91.94 276.01,89.68 277.64,87.46 279.27,85.27 280.90,83.13 282.53,81.03 284.16,78.98 285.79,76.98 287.42,75.02 289.05,73.12 290.68,71.27 292.31,69.48 293.94,67.75 295.57,66.08 297.20,64.47 298.83,62.93 300.46,61.45 302.09,60.04 303.72,58.70 305.35,57.43 306.98,56.23 308.61,55.08 310.24,53.99 311.87,52.96 313.50,51.98 315.13,51.04 316.76,50.15 318.39,49.30 320.02,48.49 321.65,47.72 323.28,46.98 324.90,46.27 326.53,45.58 328.16,44.92 329.79,44.29 331.42,43.67 333.05,43.07 334.68,42.49 336.31,41.92 337.94,41.35 339.57,40.80 341.20,40.25 342.83,39.70 344.46,39.14 346.09,38.59 347.72,38.03 349.35,37.46 350.98,36.88 352.61,36.28 354.24,35.67" fill="none" stroke="#996d3d" stroke-width="1.25" stroke-linejoin="round"/>
<path d="M27.25 234.46L33.55 234.46L30.40 229.66Z" fill="none" stroke="#996d3d" stroke-width="0.65"/>
<path d="M35.49 234.02L41.79 234.02L38.64 229.22Z" fill="none" stroke="#996d3d" stroke-width="0.65"/>
<path d="M43.73 233.75L50.03 233.75L46.88 228.95Z" fill="none" stroke="#996d3d" stroke-width="0.65"/>
<path d="M51.98 233.57L58.28 233.57L55.13 228.77Z" fill="none" stroke="#996d3d" stroke-width="0.65"/>
<path d="M60.22 233.44L66.52 233.44L63.37 228.64Z" fill="none" stroke="#996d3d" stroke-width="0.65"/>
<path d="M68.46 233.29L74.76 233.29L71.61 228.49Z" fill="none" stroke="#996d3d" stroke-width="0.65"/>
<path d="M76.70 233.08L83.00 233.08L79.85 228.28Z" fill="none" stroke="#996d3d" stroke-width="0.65"/>
<path d="M84.95 232.73L91.25 232.73L88.10 227.93Z" fill="none" stroke="#996d3d" stroke-width="0.65"/>
<path d="M93.19 232.21L99.49 232.21L96.34 227.41Z" fill="none" stroke="#996d3d" stroke-width="0.65"/>
<path d="M101.43 231.45L107.73 231.45L104.58 226.65Z" fill="none" stroke="#996d3d" stroke-width="0.65"/>
<path d="M109.67 230.49L115.97 230.49L112.82 225.69Z" fill="none" stroke="#996d3d" stroke-width="0.65"/>
<path d="M117.92 229.21L124.22 229.21L121.07 224.41Z" fill="none" stroke="#996d3d" stroke-width="0.65"/>
<path d="M126.16 227.43L132.46 227.43L129.31 222.63Z" fill="none" stroke="#996d3d" stroke-width="0.65"/>
<path d="M134.40 225.27L140.70 225.27L137.55 220.47Z" fill="none" stroke="#996d3d" stroke-width="0.65"/>
<path d="M142.64 222.69L148.94 222.69L145.79 217.89Z" fill="none" stroke="#996d3d" stroke-width="0.65"/>
<path d="M150.89 219.67L157.19 219.67L154.04 214.87Z" fill="none" stroke="#996d3d" stroke-width="0.65"/>
<path d="M159.13 216.17L165.43 216.17L162.28 211.37Z" fill="none" stroke="#996d3d" stroke-width="0.65"/>
<path d="M167.37 212.20L173.67 212.20L170.52 207.40Z" fill="none" stroke="#996d3d" stroke-width="0.65"/>
<path d="M175.62 207.69L181.92 207.69L178.77 202.89Z" fill="none" stroke="#996d3d" stroke-width="0.65"/>
<path d="M183.86 202.52L190.16 202.52L187.01 197.72Z" fill="none" stroke="#996d3d" stroke-width="0.65"/>
<path d="M192.10 196.59L198.40 196.59L195.25 191.79Z" fill="none" stroke="#996d3d" stroke-width="0.65"/>
<path d="M200.34 189.76L206.64 189.76L203.49 184.96Z" fill="none" stroke="#996d3d" stroke-width="0.65"/>
<path d="M208.58 181.95L214.88 181.95L211.73 177.15Z" fill="none" stroke="#996d3d" stroke-width="0.65"/>
<path d="M216.83 173.15L223.13 173.15L219.98 168.35Z" fill="none" stroke="#996d3d" stroke-width="0.65"/>
<path d="M225.07 163.38L231.37 163.38L228.22 158.58Z" fill="none" stroke="#996d3d" stroke-width="0.65"/>
<path d="M233.31 152.67L239.61 152.67L236.46 147.87Z" fill="none" stroke="#996d3d" stroke-width="0.65"/>
<path d="M241.56 141.14L247.86 141.14L244.71 136.34Z" fill="none" stroke="#996d3d" stroke-width="0.65"/>
<path d="M249.80 129.01L256.10 129.01L252.95 124.21Z" fill="none" stroke="#996d3d" stroke-width="0.65"/>
<path d="M258.04 116.63L264.34 116.63L261.19 111.83Z" fill="none" stroke="#996d3d" stroke-width="0.65"/>
<path d="M266.28 104.42L272.58 104.42L269.43 99.62Z" fill="none" stroke="#996d3d" stroke-width="0.65"/>
<path d="M274.52 92.79L280.82 92.79L277.67 87.99Z" fill="none" stroke="#996d3d" stroke-width="0.65"/>
<path d="M282.77 82.13L289.07 82.13L285.92 77.33Z" fill="none" stroke="#996d3d" stroke-width="0.65"/>
<path d="M291.01 72.74L297.31 72.74L294.16 67.94Z" fill="none" stroke="#996d3d" stroke-width="0.65"/>
<path d="M299.25 64.90L305.55 64.90L302.40 60.10Z" fill="none" stroke="#996d3d" stroke-width="0.65"/>
<path d="M307.50 58.75L313.79 58.75L310.64 53.95Z" fill="none" stroke="#996d3d" stroke-width="0.65"/>
<path d="M315.74 54.00L322.04 54.00L318.89 49.20Z" fill="none" stroke="#996d3d" stroke-width="0.65"/>
<path d="M323.98 50.24L330.28 50.24L327.13 45.44Z" fill="none" stroke="#996d3d" stroke-width="0.65"/>
<path d="M332.22 47.12L338.52 47.12L335.37 42.32Z" fill="none" stroke="#996d3d" stroke-width="0.65"/>
<path d="M340.46 44.30L346.76 44.30L343.61 39.50Z" fill="none" stroke="#996d3d" stroke-width="0.65"/>
<path d="M348.71 41.44L355.01 41.44L351.86 36.64Z" fill="none" stroke="#996d3d" stroke-width="0.65"/>
<g fill="none">
<path d="M30.0 28.1V234.4" stroke="#000" stroke-width="0.68"/>
<path d="M23.5 230.5H357.8" stroke="#000" stroke-width="0.66"/>
<path d="M30.0 232.98h4.2M30.0 224.58h2.5M30.0 216.19h2.5M30.0 207.79h2.5M30.0 199.40h4.2M30.0 191.01h2.5M30.0 182.61h2.5M30.0 174.22h2.5M30.0 165.82h4.2M30.0 157.43h2.5M30.0 149.03h2.5M30.0 140.63h2.5M30.0 132.24h4.2M30.0 123.84h2.5M30.0 115.45h2.5M30.0 107.06h2.5M30.0 98.66h4.2M30.0 90.26h2.5M30.0 81.87h2.5M30.0 73.47h2.5M30.0 65.08h4.2M30.0 56.68h2.5M30.0 48.29h2.5M30.0 39.89h2.5M30.0 31.50h4.2M29.90 230.5v-4.2M46.38 230.5v-2.5M62.87 230.5v-2.5M79.36 230.5v-2.5M95.84 230.5v-4.2M112.32 230.5v-2.5M128.81 230.5v-2.5M145.30 230.5v-2.5M161.78 230.5v-4.2M178.27 230.5v-2.5M194.75 230.5v-2.5M211.24 230.5v-2.5M227.72 230.5v-4.2M244.21 230.5v-2.5M260.69 230.5v-2.5M277.17 230.5v-2.5M293.66 230.5v-4.2M310.14 230.5v-2.5M326.63 230.5v-2.5M343.12 230.5v-2.5" stroke-width="0.62" stroke="#000"/>
</g>
<rect x="283.5" y="106.5" width="81" height="112" fill="#fff" stroke="#e0e0e0" stroke-width="1"/>
<path d="M287.1 115.80H301.5" stroke="#3f3d99" stroke-width="1.25"/>
<rect x="291.75" y="114.25" width="5.10" height="5.10" fill="#3f3d99"/>
<text x="314.7" y="120.90" font-size="14.67" fill="#000">L=16a</text>
<path d="M287.1 131.38H301.5" stroke="#993d71" stroke-width="1.25"/>
<circle cx="294.30" cy="132.13" r="2.9" fill="#993d71"/>
<text x="314.7" y="136.40" font-size="14.67" fill="#000">L=24a</text>
<path d="M287.1 146.96H301.5" stroke="#998b3d" stroke-width="1.25"/>
<path d="M291.30 151.51L297.30 151.51L294.30 145.61Z" fill="#998b3d"/>
<text x="314.7" y="151.90" font-size="14.67" fill="#000">L=32a</text>
<path d="M287.1 162.54H301.5" stroke="#3d9956" stroke-width="1.25"/>
<path d="M290.90 163.84L294.30 160.54L297.70 163.84L294.30 167.14Z" fill="#3d9956"/>
<text x="314.7" y="167.40" font-size="14.67" fill="#000">L=40a</text>
<path d="M287.1 178.12H301.5" stroke="#3d5a99" stroke-width="1.25"/>
<path d="M291.10 176.17L297.50 176.17L294.30 182.17Z" fill="#3d5a99"/>
<text x="314.7" y="182.90" font-size="14.67" fill="#000">L=48a</text>
<path d="M287.1 193.70H301.5" stroke="#993d90" stroke-width="1.25"/>
<path d="M291.50 194.65L294.30 191.55L297.10 194.65L294.30 197.75Z" fill="none" stroke="#993d90" stroke-width="0.7"/>
<text x="314.7" y="198.40" font-size="14.67" fill="#000">L=56a</text>
<path d="M287.1 209.28H301.5" stroke="#996d3d" stroke-width="1.25"/>
<path d="M291.15 213.13L297.45 213.13L294.30 208.33Z" fill="none" stroke="#996d3d" stroke-width="0.65"/>
<text x="314.7" y="213.90" font-size="14.67" fill="#000">L=64a</text>
<text x="95.84" y="249.2" font-size="14.67" text-anchor="middle" fill="#000">0.2</text>
<text x="161.78" y="249.2" font-size="14.67" text-anchor="middle" fill="#000">0.4</text>
<text x="227.72" y="249.2" font-size="14.67" text-anchor="middle" fill="#000">0.6</text>
<text x="293.66" y="249.2" font-size="14.67" text-anchor="middle" fill="#000">0.8</text>
<text x="25.7" y="204.60" font-size="14.67" text-anchor="end" fill="#000">2.0</text>
<text x="25.7" y="171.02" font-size="14.67" text-anchor="end" fill="#000">2.2</text>
<text x="25.7" y="137.44" font-size="14.67" text-anchor="end" fill="#000">2.4</text>
<text x="25.7" y="103.86" font-size="14.67" text-anchor="end" fill="#000">2.6</text>
<text x="25.7" y="70.28" font-size="14.67" text-anchor="end" fill="#000">2.8</text>
<text x="25.7" y="36.70" font-size="14.67" text-anchor="end" fill="#000">3.0</text>
<text x="23.3" y="14.9" font-size="14.3" font-style="italic" fill="#000">B<tspan font-size="9.9" font-style="normal" dy="2.8" dx="-0.2">4</tspan></text>
<g fill="none" stroke="#000" stroke-linecap="round"><path d="M370.3 230.7C370.7 229.4 371.9 228.8 372.8 229.5C373.9 230.4 374.6 232.6 374.8 235" stroke-width="1.15"/><path d="M377.4 228.8C376.6 231.3 375.6 233.4 374.7 235.1" stroke-width="0.9"/><path d="M374.8 234.8C374.2 236.3 373.5 237.4 372.7 238.1" stroke-width="1.25"/></g>
<text x="377.4" y="236.2" font-size="14.67" fill="#000">·</text><text x="381.7" y="236.2" font-size="14.67" fill="#000">t</text>
</svg>
</body></html>
